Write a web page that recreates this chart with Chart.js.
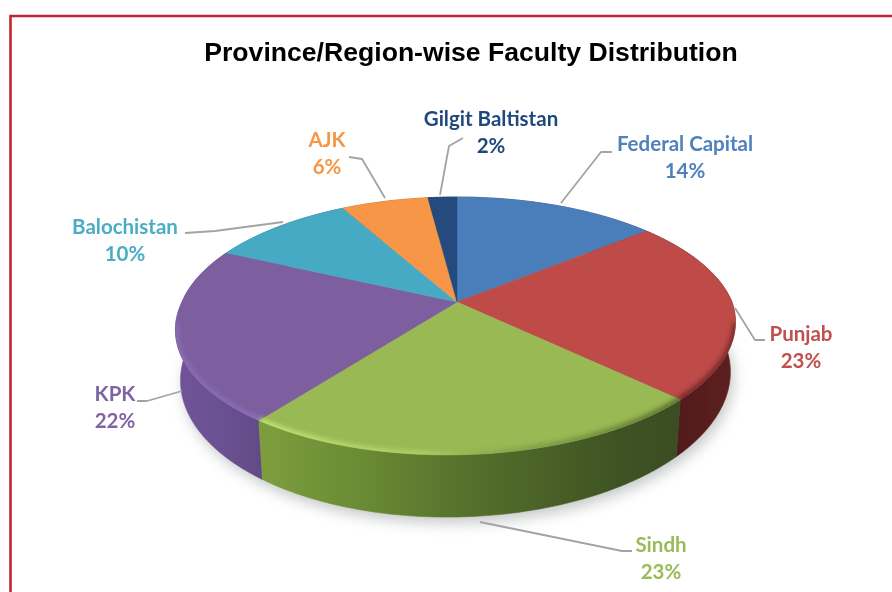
<!DOCTYPE html>
<html>
<head>
<meta charset="utf-8">
<style>html,body{margin:0;padding:0;background:#fff}canvas{display:block}</style>
<script src="https://cdn.jsdelivr.net/npm/chart.js@4"></script>
</head>
<body>
<canvas id="c" width="892" height="592"></canvas>
<script>
const categories = ['Federal Capital', 'Punjab', 'Sindh', 'KPK', 'Balochistan', 'AJK', 'Gilgit Baltistan'];
const shares = [14, 23, 23, 22, 10, 6, 2];

const topColors = ['#4a7ebb', '#be4b48', '#98b954', '#7d5fa0', '#46aac4', '#f79646', '#254a7d'];
const labelColors = ['#4f81bd', '#c0504d', '#9bbb59', '#8064a2', '#4bacc6', '#f79646', '#1f497d'];
const sideStops = [
  [[0,'#2c4c72'],[1,'#2c4c72']],
  [[0,'#4a1717'],[1,'#5e2020']],
  [[0,'#7e9e3e'],[.25,'#6a8a34'],[.5,'#55702c'],[.85,'#3e5323'],[1,'#3b4d22']],
  [[0,'#6f5598'],[.5,'#6a5192'],[1,'#624a86']],
  [[0,'#2a6a7a'],[1,'#2a6a7a']],
  [[0,'#955a2a'],[1,'#955a2a']],
  [[0,'#16304f'],[1,'#16304f']]
];
const rimStops = [
  null,
  [[0,'rgba(95,30,30,.85)'],[1,'rgba(95,30,30,.75)']],
  [[0,'rgba(200,235,125,.95)'],[.4,'rgba(180,215,105,.8)'],[.62,'rgba(110,140,60,.55)'],[1,'rgba(60,80,35,.8)']],
  [[0,'rgba(146,118,200,.6)'],[1,'rgba(146,118,200,.75)']],
  null, null, null
];

// annotation layout: [label centre x, first line y, second line y, leader polyline]
const labelLayout = [
  [685, 144, 171, [[561,203],[601,152],[612,152]]],
  [801, 334, 361, [[735,308],[755,340],[765,340]]],
  [661, 545, 572, [[480,522],[622,551],[632,551]]],
  [115, 394, 421, [[182,391],[147,401],[137,401]]],
  [125, 227, 254, [[283,222],[215,231],[185,233]]],
  [327, 140, 167, [[385,198],[362,159],[349,157]]],
  [491, 119, 146, [[440,195],[449,146],[463,138]]]
];

// perspective used for the tilted disc (top face and underside)
const K = 0.186, SKEW = 0.03;
const topFace = {ax:457, ay:302, a:275, b:124.5};
const underFace = {ax:457, ay:350, a:270, b:136};
function project(f, t){
  const x = Math.cos(t), y = Math.sin(t), w = 1 - K*y;
  return [f.ax + f.a*(x - SKEW*Math.max(0,y))/w, f.ay + f.b*y/w];
}
function rimPoints(f, s, e){
  const n = Math.max(4, Math.ceil((e-s)/0.01)), pts = [];
  for(let i=0;i<=n;i++) pts.push(project(f, s+(e-s)*i/n));
  return pts;
}
function trace(ctx, pts, move){
  pts.forEach((p,i)=>{ (i===0&&move) ? ctx.moveTo(p[0],p[1]) : ctx.lineTo(p[0],p[1]); });
}
function hGrad(ctx, pts, stops){
  const xs = pts.map(p=>p[0]);
  const g = ctx.createLinearGradient(Math.min(...xs),0,Math.max(...xs),0);
  stops.forEach(s=>g.addColorStop(s[0],s[1]));
  return g;
}
function silhouette(ctx){
  const full = Math.PI*2;
  ctx.beginPath();
  trace(ctx, rimPoints(topFace, 0, full), true); ctx.closePath();
  trace(ctx, rimPoints(underFace, 0, full), true); ctx.closePath();
  trace(ctx, rimPoints(topFace, -0.3, Math.PI+0.3), true);
  trace(ctx, rimPoints(underFace, -0.3, Math.PI+0.3).reverse(), false); ctx.closePath();
}

const disc3d = {
  id:'disc3d',
  beforeDraw(chart){
    const ctx = chart.ctx;
    ctx.save();
    ctx.strokeStyle = '#c0272d';
    ctx.lineWidth = 2.6;
    ctx.beginPath();
    ctx.moveTo(10.5,600); ctx.lineTo(10.5,16); ctx.lineTo(900,16);
    ctx.stroke();
    ctx.restore();
  },
  beforeDatasetDraw(){ return false; },
  afterDatasetsDraw(chart){
    const ctx = chart.ctx, arcs = chart.getDatasetMeta(0).data;
    ctx.save();
    // soft ground shadow
    ctx.save();
    ctx.filter = 'blur(7px)';
    ctx.fillStyle = 'rgba(120,125,125,.42)';
    ctx.beginPath();
    trace(ctx, rimPoints({...underFace, ax:underFace.ax+3, ay:underFace.ay+6}, 0, Math.PI*2), true);
    ctx.fill();
    ctx.restore();
    // side walls
    [0,6,5,4,1,3,2].forEach(i=>{
      const s = arcs[i].startAngle, e = arcs[i].endAngle;
      const up = rimPoints(topFace, s, e), low = rimPoints(underFace, s, e).reverse();
      ctx.beginPath(); trace(ctx, up, true); trace(ctx, low, false); ctx.closePath();
      const g = hGrad(ctx, up.concat(low), sideStops[i]);
      ctx.fillStyle = g; ctx.strokeStyle = g; ctx.lineWidth = .6;
      ctx.fill(); ctx.stroke();
    });
    // top face
    arcs.forEach((arc,i)=>{
      const rim = rimPoints(topFace, arc.startAngle, arc.endAngle);
      ctx.beginPath(); ctx.moveTo(topFace.ax, topFace.ay); trace(ctx, rim, false); ctx.closePath();
      ctx.fillStyle = topColors[i]; ctx.strokeStyle = topColors[i]; ctx.lineWidth = .5;
      ctx.fill(); ctx.stroke();
    });
    // bevelled rim on the front of the disc, kept inside the disc outline
    ctx.save();
    silhouette(ctx);
    ctx.clip();
    arcs.forEach((arc,i)=>{
      if(!rimStops[i]) return;
      const rim = rimPoints(topFace, arc.startAngle, arc.endAngle).filter((p,j,all)=>{
        const t = arc.startAngle + (arc.endAngle-arc.startAngle)*j/(all.length-1);
        return Math.sin(t)>0.16;
      });
      ctx.save();
      ctx.filter = 'blur(2.8px)';
      ctx.lineWidth = 6;
      ctx.strokeStyle = hGrad(ctx, rim, rimStops[i]);
      ctx.beginPath(); trace(ctx, rim, true); ctx.stroke();
      ctx.restore();
    });
    ctx.restore();
    // labels with leader lines
    ctx.textAlign = 'center';
    ctx.textBaseline = 'middle';
    ctx.font = 'bold 20.5px Lato, "Open Sans", sans-serif';
    categories.forEach((name,i)=>{
      const [cx,y1,y2,line] = labelLayout[i];
      ctx.strokeStyle = '#a3a3a3'; ctx.lineWidth = 1.8; ctx.lineJoin = 'round';
      ctx.beginPath(); trace(ctx, line, true); ctx.stroke();
      ctx.fillStyle = labelColors[i];
      ctx.fillText(name, cx, y1);
      ctx.fillText(shares[i] + '%', cx, y2);
    });
    ctx.restore();
  }
};

new Chart(document.getElementById('c'), {
  type:'pie',
  data:{labels:categories, datasets:[{data:shares, backgroundColor:topColors, borderWidth:0}]},
  plugins:[disc3d],
  options:{
    responsive:false,
    animation:false,
    layout:{padding:{left:50}},
    plugins:{
      legend:{display:false},
      tooltip:{enabled:false},
      title:{display:true, text:'Province/Region-wise Faculty Distribution', color:'#000',
        font:{family:'"Liberation Sans", Arial, sans-serif', size:26.6, weight:'bold'}, padding:{top:38, bottom:10}}
    }
  }
});
</script>
</body>
</html>
